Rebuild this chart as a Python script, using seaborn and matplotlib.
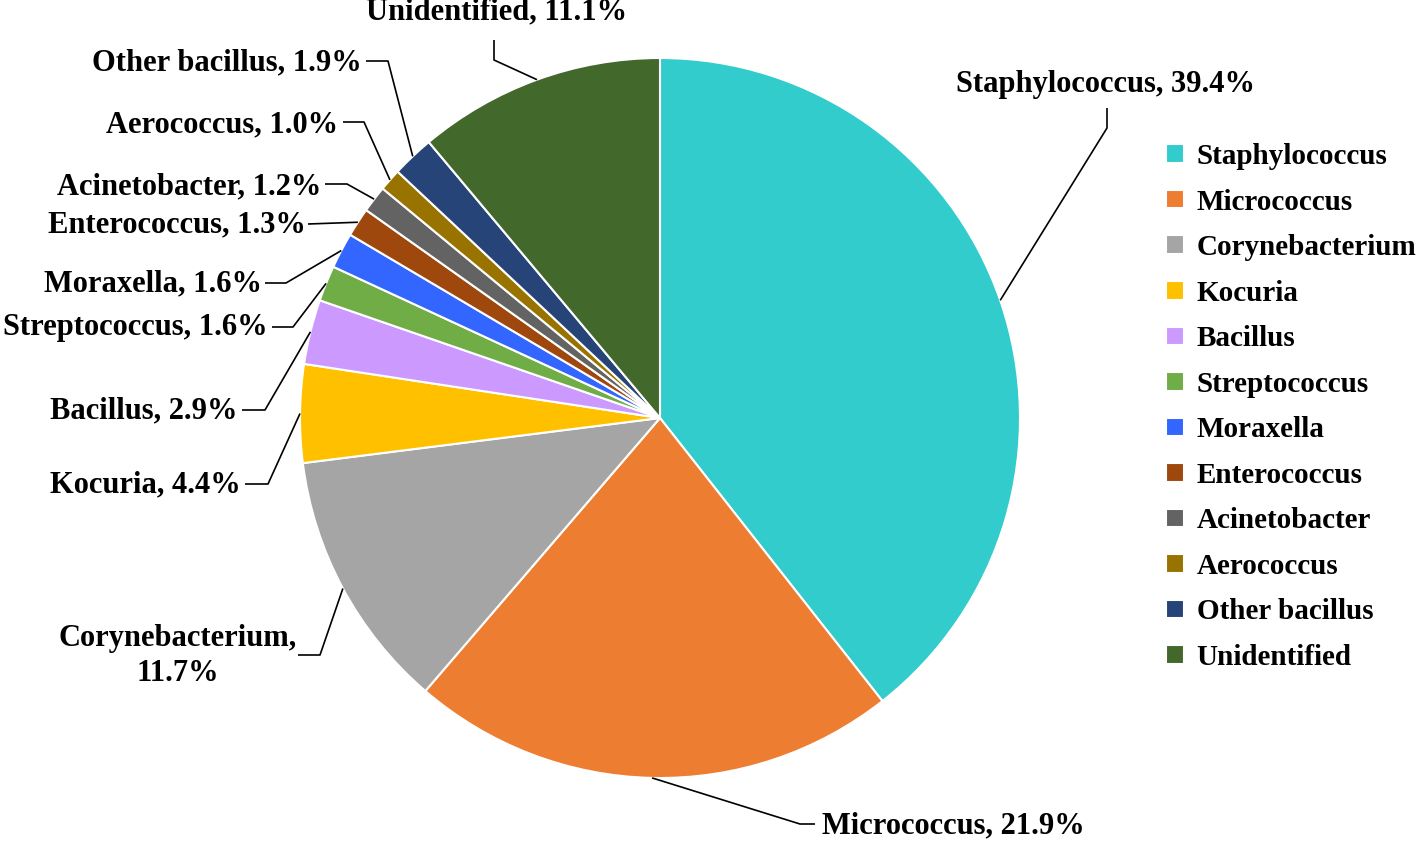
import matplotlib
matplotlib.use("Agg")
import matplotlib.pyplot as plt
import seaborn as sns
import numpy as np

categories = ["Staphylococcus", "Micrococcus", "Corynebacterium", "Kocuria", "Bacillus",
              "Streptococcus", "Moraxella", "Enterococcus", "Acinetobacter", "Aerococcus",
              "Other bacillus", "Unidentified"]
percentages = [39.4, 21.9, 11.7, 4.4, 2.9, 1.6, 1.6, 1.3, 1.2, 1.0, 1.9, 11.1]
colors = ["#33CCCC", "#ED7D31", "#A5A5A5", "#FFC000", "#CC99FF", "#70AD47",
          "#3366FF", "#9E480E", "#636363", "#997300", "#264478", "#43682B"]

sns.set_theme(style="white")
plt.rcParams['font.family'] = ['Liberation Serif', 'DejaVu Serif']
plt.rcParams['font.weight'] = 'bold'
plt.rcParams['text.color'] = 'black'

fig = plt.figure(figsize=(14.18, 8.41), dpi=100)
ax = fig.add_axes([0, 0, 1, 1])
cx, cy, R = 660, 418, 360
palette = sns.color_palette(colors)
wedges, _ = ax.pie(percentages, colors=palette, startangle=-90, counterclock=True,
                   center=(cx, cy), radius=R,
                   wedgeprops=dict(edgecolor='white', linewidth=1.5))
ax.set_xlim(0, 1418)
ax.set_ylim(841, 0)
ax.set_aspect('auto')
ax.axis('off')

# label layout: (x, y, ha, leader path points before wedge)
layout = [
    (1105, 84, 'center', [(1107, 108), (1107, 128)]),
    (822, 826, 'left', [(815, 824), (800, 824)]),
    (178, 656, 'center', [(298, 655), (320, 655)]),
    (241, 485, 'right', [(245, 484), (268, 484)]),
    (238, 411, 'right', [(242, 410), (265, 410)]),
    (268, 328, 'right', [(272, 327), (293, 327)]),
    (262, 284, 'right', [(265, 283), (286, 283)]),
    (306, 225, 'right', [(308, 224)]),
    (321, 187, 'right', [(325, 184), (347, 184)]),
    (338, 125, 'right', [(343, 122), (364, 122)]),
    (362, 63, 'right', [(366, 61), (388, 61)]),
    (497, 12, 'center', [(494, 40), (494, 60)]),
]

fs = 22
for w, cat, pct, (tx, ty, ha, path) in zip(wedges, categories, percentages, layout):
    th = np.deg2rad((w.theta1 + w.theta2) / 2)
    px, py = cx + R * np.cos(th), cy + R * np.sin(th)
    if cat == "Corynebacterium":
        txt = f"{cat},\n{pct:.1f}%"
    else:
        txt = f"{cat}, {pct:.1f}%"
    ax.text(tx, ty, txt, ha=ha, va='center', fontsize=fs, fontweight='bold',
            color='black', linespacing=1.3)
    xs = [p[0] for p in path] + [px]
    ys = [p[1] for p in path] + [py]
    ax.plot(xs, ys, color='black', lw=1.2, solid_capstyle='butt')

leg = fig.legend(wedges, categories, loc='upper left',
                 bbox_to_anchor=(1166 / 1418, 1 - 143 / 841),
                 frameon=False, handlelength=0.6, handleheight=0.6, handletextpad=0.45,
                 labelspacing=0.635, borderpad=0, borderaxespad=0,
                 prop=dict(family='Liberation Serif', weight='bold', size=21))
for t in leg.get_texts():
    t.set_color('black')

fig.savefig("out.png", dpi=100)
